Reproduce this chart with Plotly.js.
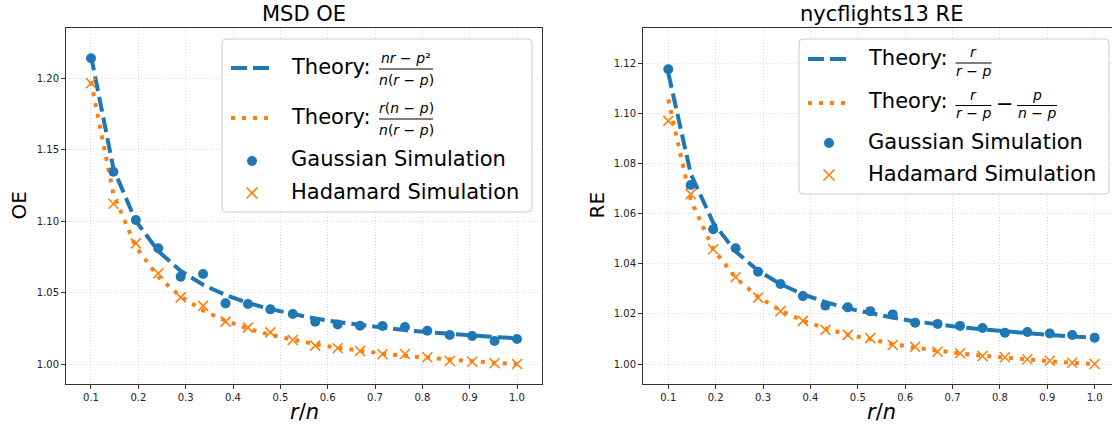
<!DOCTYPE html>
<html>
<head>
<meta charset="utf-8">
<script src="https://cdn.plot.ly/plotly-3.0.1.min.js"></script>
<style>html,body{margin:0;padding:0;background:#fff;}#chart{width:1112px;height:428px;}</style>
</head>
<body>
<div id="chart"></div>
<script>
// ---- data ----
const ratio = [0.1, 0.1474, 0.1947, 0.2421, 0.2895, 0.3368, 0.3842, 0.4316, 0.4789, 0.5263,
               0.5737, 0.6211, 0.6684, 0.7158, 0.7632, 0.8105, 0.8579, 0.9053, 0.9526, 1.0];

const oeTheoryGauss = [1.2156, 1.1366, 1.1000, 1.0789, 1.0651, 1.0554, 1.0483, 1.0427, 1.0384, 1.0348,
                       1.0318, 1.0293, 1.0272, 1.0253, 1.0237, 1.0223, 1.0210, 1.0199, 1.0189, 1.0180];
const oeTheoryHad   = [1.1976, 1.1186, 1.0820, 1.0609, 1.0471, 1.0374, 1.0303, 1.0247, 1.0204, 1.0168,
                       1.0138, 1.0113, 1.0092, 1.0073, 1.0057, 1.0043, 1.0030, 1.0019, 1.0009, 1.0000];
const oeGaussSim    = [1.2138, 1.1345, 1.1007, 1.0809, 1.0611, 1.0629, 1.0424, 1.0420, 1.0382, 1.0350,
                       1.0296, 1.0277, 1.0268, 1.0266, 1.0259, 1.0233, 1.0203, 1.0196, 1.0161, 1.0175];
const oeHadSim      = [1.1963, 1.1121, 1.0844, 1.0634, 1.0466, 1.0406, 1.0296, 1.0254, 1.0221, 1.0168,
                       1.0128, 1.0110, 1.0091, 1.0068, 1.0070, 1.0047, 1.0021, 1.0016, 1.0005, 1.0000];

const reTheoryGauss = [1.1161, 1.0759, 1.0564, 1.0449, 1.0373, 1.0319, 1.0278, 1.0247, 1.0222, 1.0202,
                       1.0185, 1.0170, 1.0158, 1.0147, 1.0138, 1.0130, 1.0123, 1.0116, 1.0110, 1.0105];
const reTheoryHad   = [1.1056, 1.0654, 1.0459, 1.0344, 1.0268, 1.0214, 1.0173, 1.0142, 1.0117, 1.0097,
                       1.0080, 1.0065, 1.0053, 1.0042, 1.0033, 1.0025, 1.0018, 1.0011, 1.0005, 1.0000];
const reGaussSim    = [1.1176, 1.0714, 1.0538, 1.0462, 1.0368, 1.0319, 1.0271, 1.0233, 1.0226, 1.0211,
                       1.0198, 1.0165, 1.0160, 1.0152, 1.0144, 1.0125, 1.0128, 1.0122, 1.0116, 1.0105];
const reHadSim      = [1.0970, 1.0678, 1.0458, 1.0346, 1.0265, 1.0211, 1.0172, 1.0136, 1.0116, 1.0103,
                       1.0076, 1.0069, 1.0049, 1.0043, 1.0032, 1.0027, 1.0019, 1.0013, 1.0005, 1.0000];

const xTickVals = [0.1, 0.2, 0.3, 0.4, 0.5, 0.6, 0.7, 0.8, 0.9, 1.0];
const oeTickVals = [1.00, 1.05, 1.10, 1.15, 1.20];
const reTickVals = [1.00, 1.02, 1.04, 1.06, 1.08, 1.10, 1.12];

const seriesNames = ['Theory', 'Theory', 'Gaussian Simulation', 'Hadamard Simulation'];
const panelTitles = ['MSD OE', 'nycflights13 RE'];
const yTitles = ['OE', 'RE'];

// ---- styling ----
const F = 'DejaVu Sans, Verdana, sans-serif';
const BLUE = '#1f77b4', ORANGE = '#ff7f0e';
const W = 1112, H = 428;
const PX = x => x / W;
const PY = y => 1 - y / H;

function theoryTrace(y, ax, color, dash, name) {
  return {x: ratio, y: y, xaxis: ax[0], yaxis: ax[1], type: 'scatter', mode: 'lines', name: name,
          line: {color: color, width: 4, dash: dash}, showlegend: false, hoverinfo: 'skip'};
}
function gaussTrace(y, ax) {
  return {x: ratio, y: y, xaxis: ax[0], yaxis: ax[1], type: 'scatter', mode: 'markers', name: seriesNames[2],
          marker: {color: BLUE, size: 10, symbol: 'circle'}, showlegend: false};
}
function hadTrace(y, ax) {
  return {x: ratio, y: y, xaxis: ax[0], yaxis: ax[1], type: 'scatter', mode: 'markers', name: seriesNames[3],
          marker: {color: ORANGE, size: 10, symbol: 'x-thin', line: {color: ORANGE, width: 1.6}}, showlegend: false};
}

const DASH = '15px,6px';
const DOT = '4px,7px';
const A1 = ['x', 'y'], A2 = ['x2', 'y2'];

const data = [
  theoryTrace(oeTheoryGauss, A1, BLUE, DASH, seriesNames[0]),
  theoryTrace(oeTheoryHad, A1, ORANGE, DOT, seriesNames[1]),
  gaussTrace(oeGaussSim, A1),
  hadTrace(oeHadSim, A1),
  theoryTrace(reTheoryGauss, A2, BLUE, DASH, seriesNames[0]),
  theoryTrace(reTheoryHad, A2, ORANGE, DOT, seriesNames[1]),
  gaussTrace(reGaussSim, A2),
  hadTrace(reHadSim, A2)
];

const GRID = {gridcolor: '#cfcfcf', gridwidth: 0.8, griddash: '1px,2px'};

function xAxis(domain, range, anchor) {
  return Object.assign({domain: domain, range: range, anchor: anchor, tickvals: xTickVals, tickformat: '.1f',
          ticks: 'outside', ticklen: 4, tickwidth: 1, tickcolor: '#333',
          showline: true, linecolor: '#333', linewidth: 1, mirror: true, showgrid: true,
          zeroline: false, tickfont: {family: F, size: 10, color: '#222'}, automargin: false}, GRID);
}
function yAxis(domain, range, anchor, tv, mirror) {
  return Object.assign({domain: domain, range: range, anchor: anchor, tickvals: tv, tickformat: '.2f',
          ticks: 'outside', ticklen: 4, tickwidth: 1, tickcolor: '#333',
          showline: true, linecolor: '#333', linewidth: 1, mirror: mirror, showgrid: true,
          zeroline: false, tickfont: {family: F, size: 10, color: '#222'}, automargin: false}, GRID);
}

const yDom = [PY(383.5), PY(28)];

// ---- annotations & custom legends ----
const ann = [];
const shapes = [];
function txt(x, y, text, size, anchor, extra) {
  const a = {xref: 'paper', yref: 'paper', x: PX(x), y: PY(y), text: text, showarrow: false,
             xanchor: anchor || 'left', yanchor: 'middle', font: {family: F, size: size, color: '#000'}};
  return Object.assign(a, extra || {});
}
function line(x0, y0, x1, y1, color, width, dash) {
  return {type: 'line', xref: 'paper', yref: 'paper', x0: PX(x0), y0: PY(y0), x1: PX(x1), y1: PY(y1),
          line: {color: color, width: width, dash: dash || 'solid'}};
}
function box(x0, y0, x1, y1, r) {
  const p = (x, y) => PX(x) + ',' + PY(y);
  const path = 'M' + p(x0 + r, y0) + ' L' + p(x1 - r, y0) + ' Q' + p(x1, y0) + ' ' + p(x1, y0 + r) +
               ' L' + p(x1, y1 - r) + ' Q' + p(x1, y1) + ' ' + p(x1 - r, y1) +
               ' L' + p(x0 + r, y1) + ' Q' + p(x0, y1) + ' ' + p(x0, y1 - r) +
               ' L' + p(x0, y0 + r) + ' Q' + p(x0, y0) + ' ' + p(x0 + r, y0) + ' Z';
  return {type: 'path', xref: 'paper', yref: 'paper', path: path,
          fillcolor: 'rgba(255,255,255,0.85)', line: {color: '#cccccc', width: 1}};
}
function frac(cx, yNum, yBar, yDen, halfW, num, den) {
  ann.push(txt(cx, yNum, num, 14, 'center'));
  ann.push(txt(cx, yDen, den, 14, 'center'));
  shapes.push(line(cx - halfW, yBar, cx + halfW, yBar, '#000', 1));
}
function legendMarkers(cx, yDot, yX) {
  shapes.push({type: 'circle', xref: 'paper', yref: 'paper', x0: PX(cx - 5), x1: PX(cx + 5),
               y0: PY(yDot - 5), y1: PY(yDot + 5), fillcolor: BLUE, line: {color: BLUE, width: 0}});
  shapes.push(line(cx - 5.5, yX - 5.5, cx + 5.5, yX + 5.5, ORANGE, 1.6));
  shapes.push(line(cx - 5.5, yX + 5.5, cx + 5.5, yX - 5.5, ORANGE, 1.6));
}

// panel titles and axis titles
ann.push(txt(304, 14, panelTitles[0], 21, 'center'));
ann.push(txt(881, 14, panelTitles[1], 21, 'center'));
ann.push(txt(18, 205.5, yTitles[0], 20, 'center', {textangle: -90}));
ann.push(txt(596, 205.5, yTitles[1], 20, 'center', {textangle: -90}));
ann.push(txt(304, 412, '<i>r</i>/<i>n</i>', 21, 'center'));
ann.push(txt(881, 412, '<i>r</i>/<i>n</i>', 21, 'center'));

// left legend
shapes.push(box(222, 39, 532, 212, 4));
shapes.push(line(231, 68, 270, 68, BLUE, 4, '16px,6px'));
shapes.push(line(231, 118, 270, 118, ORANGE, 4, DOT));
ann.push(txt(289, 67, seriesNames[0] + ':', 21));
ann.push(txt(289, 117, seriesNames[1] + ':', 21));
frac(406, 58, 69, 80, 27, '<i>nr</i> − <i>p</i>²', '<i>n</i>(<i>r</i> − <i>p</i>)');
frac(406, 108, 119, 130, 27, '<i>r</i>(<i>n</i> − <i>p</i>)', '<i>n</i>(<i>r</i> − <i>p</i>)');
legendMarkers(252, 161, 193);
ann.push(txt(289, 159, seriesNames[2], 21));
ann.push(txt(289, 192, seriesNames[3], 21));

// right legend
shapes.push(box(799, 39, 1109, 194, 4));
shapes.push(line(808, 59, 847, 59, BLUE, 4, '16px,6px'));
shapes.push(line(808, 103, 847, 103, ORANGE, 4, DOT));
ann.push(txt(866, 58, seriesNames[0] + ':', 21));
ann.push(txt(866, 101, seriesNames[1] + ':', 21));
frac(973.5, 52, 63, 71, 18, '<i>r</i>', '<i>r</i> − <i>p</i>');
frac(973.5, 95, 105.5, 113, 18, '<i>r</i>', '<i>r</i> − <i>p</i>');
ann.push(txt(1004.5, 104, '−', 21, 'center'));
frac(1037, 95, 105.5, 113, 20, '<i>p</i>', '<i>n</i> − <i>p</i>');
legendMarkers(829, 143, 175);
ann.push(txt(866, 142, seriesNames[2], 21));
ann.push(txt(866, 174, seriesNames[3], 21));

const layout = {
  width: W, height: H,
  margin: {l: 0, r: 0, t: 0, b: 0, pad: 0},
  paper_bgcolor: '#ffffff', plot_bgcolor: '#ffffff',
  showlegend: false,
  font: {family: F, color: '#000'},
  xaxis: xAxis([PX(66), PX(542)], [0.0472, 1.0528], 'y'),
  yaxis: yAxis(yDom, [0.98636, 1.23497], 'x', oeTickVals, true),
  xaxis2: xAxis([PX(643), 1], [0.0466, 1.0366], 'y2'),
  yaxis2: yAxis(yDom, [0.99222, 1.13408], 'x2', reTickVals, false),
  annotations: ann,
  shapes: shapes
};

Plotly.newPlot('chart', data, layout, {displayModeBar: false, staticPlot: true});
</script>
</body>
</html>
